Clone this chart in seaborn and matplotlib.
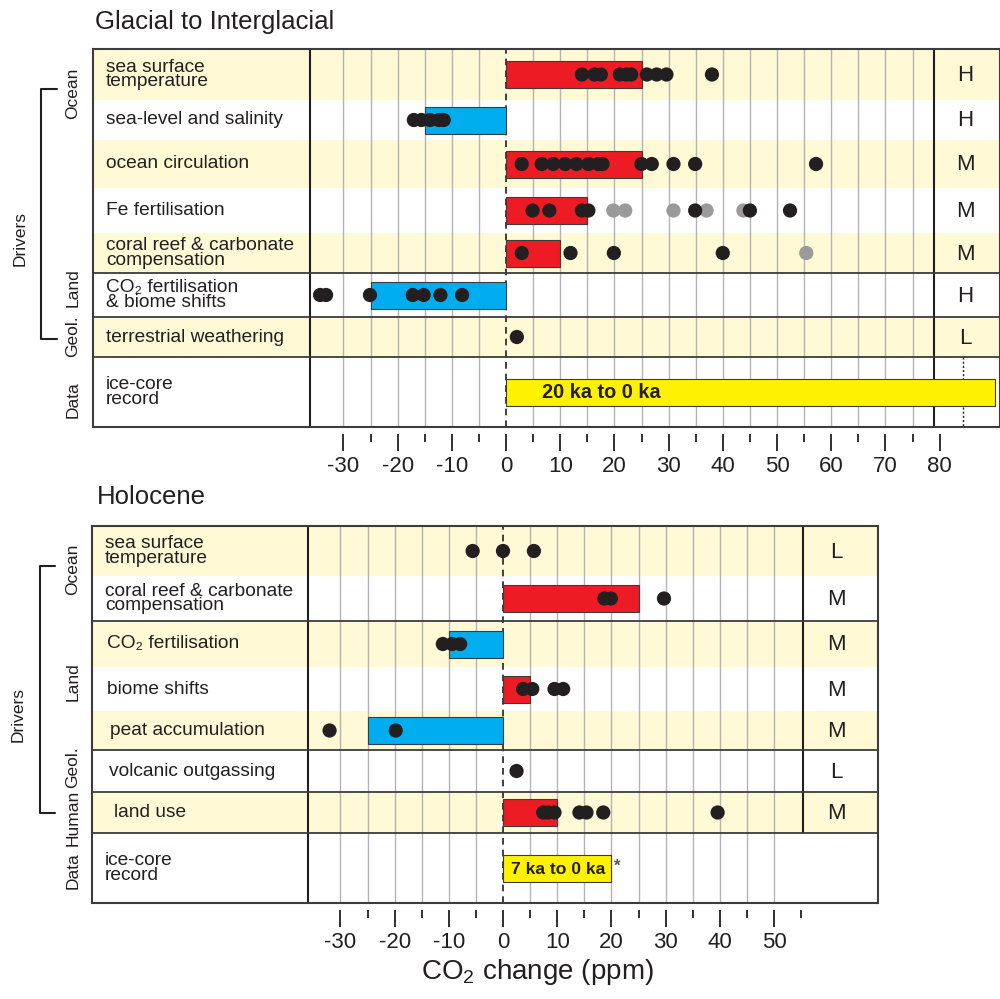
import numpy as np
import pandas as pd
import matplotlib
matplotlib.use("Agg")
import matplotlib.pyplot as plt
import seaborn as sns

# ── Data ──────────────────────────────────────────────────────────────────────

glacial_labels = ["sea surface\ntemperature", "sea-level and salinity",
                  "ocean circulation", "Fe fertilisation",
                  "coral reef & carbonate\ncompensation",
                  "CO\u2082 fertilisation\n& biome shifts",
                  "terrestrial weathering", "ice-core\nrecord"]
glacial_bars = [25, -15, 25, 15, 10, -25, 0]
glacial_conf = ["H", "H", "M", "M", "M", "H", "L"]
glacial_dots = [
    [14, 16.3, 17.5, 21, 22.2, 23.1, 26, 27.8, 29.6, 38],
    [-17, -15.6, -14, -12.4, -11.5],
    [2.9, 6.6, 8.7, 10.9, 13, 15.2, 17, 17.8, 25, 26.9, 30.9, 34.9, 57.2],
    [4.9, 8, 14, 15.2, 34.9, 45, 52.4],
    [2.9, 11.9, 19.9, 40],
    [-34.3, -33.2, -25.1, -17.2, -15.2, -12.1, -8.1],
    [2],
]
glacial_grey = [[], [], [], [19.8, 22, 37, 43.8, 30.9], [55.4], [], []]
glacial_record = 90.3
glacial_record_text = "20 ka to 0 ka"

holocene_labels = ["sea surface\ntemperature",
                   "coral reef & carbonate\ncompensation",
                   "CO\u2082 fertilisation", "biome shifts", "peat accumulation",
                   "volcanic outgassing", "land use", "ice-core\nrecord"]
holocene_bars = [0, 25, -10, 5, -25, 0, 10]
holocene_conf = ["L", "M", "M", "M", "M", "L", "M"]
holocene_dots = [
    [-5.6, 0, 5.7],
    [18.7, 19.9, 29.7],
    [-11.1, -9.4, -7.9],
    [3.7, 5.4, 9.5, 11.1],
    [-32, -19.8],
    [2.5],
    [7.4, 8.3, 9.5, 14.1, 15.4, 18.5, 39.6],
]
holocene_grey = [[], [], [], [], [], [], []]
holocene_record = 20
holocene_record_text = "7 ka to 0 ka"

# ── Style ─────────────────────────────────────────────────────────────────────

sns.set_style("white")
plt.rcParams["font.family"] = ["Liberation Sans", "DejaVu Sans"]
plt.rcParams["mathtext.fontset"] = "custom"
plt.rcParams["mathtext.rm"] = "Liberation Sans"
plt.rcParams["axes.unicode_minus"] = False

INK = "#231f20"
FRAME = "#3c3c3c"
SHADE = "#fff9d5"
RED = "#ed1c24"
BLUE = "#00aeef"
YELLOW = "#fff200"
GRID = "#b4b4b4"
PX = 5.42          # pixels per ppm
W, H = 1000, 999

fig = plt.figure(figsize=(W / 100, H / 100), dpi=100)

# overlay in pixel coordinates for titles, side labels, brackets
ov = fig.add_axes([0, 0, 1, 1])
ov.set_xlim(0, W)
ov.set_ylim(H, 0)
ov.axis("off")


def draw_panel(lay, labels, bars, conf, dots, grey, record, record_text):
    left, right, top, bottom, zero = lay["left"], lay["right"], lay["top"], lay["bottom"], lay["zero"]
    ax = fig.add_axes([left / W, 1 - bottom / H, (right - left) / W, (bottom - top) / H])
    heights = lay["heights"]
    edges = np.concatenate([[0], np.cumsum(heights)])
    centers = (edges[:-1] + edges[1:]) / 2
    total = edges[-1]
    v = lambda px: (px - zero) / PX
    ax.set_xlim(v(left), v(right))
    ax.set_ylim(total, 0)

    # alternating row shading
    for i in range(0, len(heights), 2):
        ax.axhspan(edges[i], edges[i + 1], color=SHADE, lw=0, zorder=0)

    grid_vals = [g for g in range(-30, lay["grid_max"] + 1, 5) if g != 0]
    ax.vlines(grid_vals, 0, total, color=GRID, lw=1, zorder=1)
    ax.axvline(0, color=INK, lw=1.2, ls=(0, (4, 3)), zorder=2)
    ax.axvline(v(lay["label_sep"]), color=INK, lw=1.5, zorder=2)
    conf_end = total if lay["conf_full"] else edges[-2]
    ax.vlines(v(lay["conf_sep"]), 0, conf_end, color=INK, lw=1.5, zorder=2)
    for i in lay["lines_after"]:
        ax.axhline(edges[i + 1], color=FRAME, lw=1.3, zorder=2)
    ax.axhline(total, color=FRAME, lw=1.5, zorder=5, clip_on=False)
    if lay.get("dotted") is not None:
        ax.vlines(lay["dotted"], edges[-2], total, color=INK, lw=1, ls=(0, (1.5, 1.5)), zorder=2)

    # bars
    for i, b in enumerate(bars):
        if b != 0:
            ax.barh(centers[i], b, height=27, left=0, color=RED if b > 0 else BLUE,
                    edgecolor=FRAME, lw=0.8, zorder=3)

    # dots
    rows = []
    for i, vals in enumerate(grey):
        rows += [{"ppm": x, "y": centers[i], "kind": "grey"} for x in vals]
    for i, vals in enumerate(dots):
        rows += [{"ppm": x, "y": centers[i], "kind": "black"} for x in vals]
    df = pd.DataFrame(rows)
    sns.scatterplot(data=df, x="ppm", y="y", hue="kind",
                    palette={"black": INK, "grey": "#9a9a9a"},
                    s=105, linewidth=0, legend=False, ax=ax, zorder=4)

    # ice-core record
    ax.barh(centers[-1], record, height=27, left=0, color=YELLOW,
            edgecolor=FRAME, lw=0.8, zorder=3)
    ax.text(v(lay["rec_text_x"]), centers[-1] + 1, record_text, ha="left", va="center",
            fontsize=lay["rec_fs"], fontweight="bold", color=INK, zorder=5)
    if lay.get("star"):
        ax.text(record + 0.4, centers[-1] - 2, "*", ha="left", va="center",
                fontsize=12, fontweight="bold", color="#555555", zorder=5)

    # row labels and confidence
    for i, lab in enumerate(labels):
        ax.text(v(lay["label_x"][i]), centers[i], lab, ha="left", va="center",
                fontsize=13.8, linespacing=0.82, color=INK, zorder=5)
    for i, c in enumerate(conf):
        ax.text(v(lay["conf_x"]), centers[i] + 1, c, ha="center", va="center",
                fontsize=16, color=INK, zorder=5)

    # frame and ticks
    for s in ["top", "left", "right"]:
        ax.spines[s].set_color(FRAME)
        ax.spines[s].set_linewidth(1.5)
    ax.spines["bottom"].set_position(("outward", 5))
    ax.spines["bottom"].set_visible(False)
    ax.set_xticks(lay["major"])
    ax.set_xticks(lay["minor"], minor=True)
    ax.set_yticks([])
    ax.set_xlabel("")
    ax.set_ylabel("")
    ax.tick_params(axis="x", which="major", length=12, width=1.3, color=INK,
                   direction="out", pad=4, labelsize=16, labelcolor=INK, bottom=True)
    ax.tick_params(axis="x", which="minor", length=6, width=1.3, color=INK,
                   direction="out", bottom=True)
    return ax


top_layout = dict(left=93, right=1000, top=49, bottom=427, zero=506,
                  heights=[51, 40, 48, 45, 40, 44, 40, 70],
                  label_sep=310, conf_sep=934, conf_full=True, conf_x=965,
                  lines_after=[4, 5, 6], grid_max=75, dotted=84.4,
                  label_x=[106] * 8, rec_text_x=542, rec_fs=14.3,
                  major=list(range(-30, 81, 10)), minor=list(range(-25, 80, 10)))
bot_layout = dict(left=92, right=878, top=526, bottom=903, zero=503,
                  heights=[50, 45, 46, 44, 39, 42, 41, 70],
                  label_sep=308, conf_sep=803, conf_full=False, conf_x=836,
                  lines_after=[1, 4, 5, 6], grid_max=50, dotted=None, star=True,
                  label_x=[105, 105, 107, 107, 110, 109, 114, 105],
                  rec_text_x=511, rec_fs=12.6,
                  major=list(range(-30, 51, 10)), minor=list(range(-25, 56, 10)))

draw_panel(top_layout, glacial_labels, glacial_bars, glacial_conf,
           glacial_dots, glacial_grey, glacial_record, glacial_record_text)
draw_panel(bot_layout, holocene_labels, holocene_bars, holocene_conf,
           holocene_dots, holocene_grey, holocene_record, holocene_record_text)

# titles and side annotations
ov.text(95, 22, "Glacial to Interglacial", fontsize=18.5, color=INK, va="center")
ov.text(97, 497, "Holocene", fontsize=18.5, color=INK, va="center")
ov.text(537, 972, "CO$_2$ change (ppm)", fontsize=20, color=INK, ha="center", va="center")

side_top = [("Ocean", 93), ("Land", 288), ("Geol.", 336), ("Data", 400)]
side_bot = [("Ocean", 569), ("Land", 682), ("Geol.", 767), ("Human", 818), ("Data", 871)]
for txt, y in side_top + side_bot:
    ov.text(73, y, txt, rotation=90, fontsize=12.5, color=INK, ha="center", va="center")
ov.text(20, 238, "Drivers", rotation=90, fontsize=12.5, color=INK, ha="center", va="center")
ov.text(18, 715, "Drivers", rotation=90, fontsize=12.5, color=INK, ha="center", va="center")
ov.plot([57, 41, 41, 57], [89, 89, 339, 339], color=INK, lw=1.5)
ov.plot([55, 40, 40, 55], [566, 566, 813, 813], color=INK, lw=1.5)

fig.savefig("out.png", dpi=100)
plt.close(fig)
